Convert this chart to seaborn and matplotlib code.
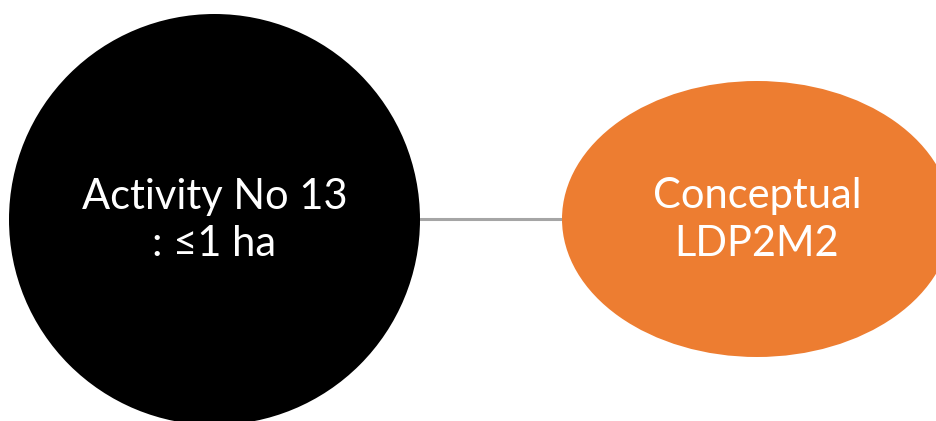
import matplotlib
matplotlib.use('Agg')
import matplotlib.pyplot as plt
from matplotlib.patches import Ellipse
import pandas as pd
import seaborn as sns

# node labels and edge between them
node_labels = ['Activity No 13\n: ≤1 ha', 'Conceptual\nLDP2M2']
node_colors = ['#000000', '#ED7D31']
edge = [('Activity No 13\n: ≤1 ha', 'Conceptual\nLDP2M2')]

sns.set_theme(style='white')
plt.rcParams['font.family'] = ['Lato', 'DejaVu Sans']

# layout in pixel coordinates (center x, center y, width, height)
layout = {
    node_labels[0]: (214.5, 219.5, 411, 411),
    node_labels[1]: (757, 219, 390, 276),
}

fig = plt.figure(figsize=(9.37, 4.21), dpi=100)
ax = fig.add_axes([0, 0, 1, 1])
ax.set_xlim(0, 937)
ax.set_ylim(421, 0)
ax.axis('off')

# connecting line, from edge of one node to edge of the other
a, b = edge[0]
ax_, ay, aw, ah = layout[a]
bx, by, bw, bh = layout[b]
line_df = pd.DataFrame({'x': [ax_ + aw / 2, bx - bw / 2], 'y': [219, 219]})
sns.lineplot(data=line_df, x='x', y='y', color='#A5A5A5', linewidth=2.2, ax=ax, zorder=1)

for label, color in zip(node_labels, node_colors):
    cx, cy, w, h = layout[label]
    ax.add_patch(Ellipse((cx, cy), w, h, facecolor=color, edgecolor='none', zorder=2))
    ax.text(cx, cy + 1, label, color='white', fontsize=30, ha='center', va='center',
            linespacing=1.32, zorder=3)

ax.set_xlabel('')
ax.set_ylabel('')
fig.savefig('out.png', dpi=100, facecolor='white')
